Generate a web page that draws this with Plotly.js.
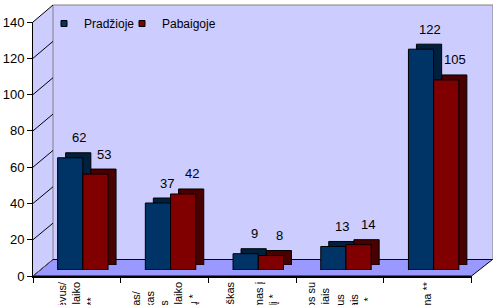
<!DOCTYPE html>
<html>
<head>
<meta charset="utf-8">
<script src="https://cdn.plot.ly/plotly-3.0.1.min.js"></script>
<style>html,body{margin:0;padding:0;background:#fff;}#chart{width:493px;height:305px;}</style>
</head>
<body>
<div id="chart"></div>
<script>
// ---- data ----
const NB = '\u00a0';
const categories = [
  'Nepaklūsta, įžeidinėja tėvus/<br>mokytojus, nesilaiko<br>taisyklių **' + NB.repeat(5),
  'Agresyvus, piktas/' + NB.repeat(3) + '<br>dažnai susierzinantis vaikas' + NB.repeat(3) + '<br>muša ir stumdo kitus' + NB.repeat(6) + '<br>vaikus, nesilaiko<br>elgesio normų *' + NB.repeat(4),
  'Nedrąsus, uždaras, pesimistiškas<br>liūdnas,' + NB.repeat(10) + '<br>nenoriai vedamas į<br>darželį *' + NB.repeat(4),
  'Negali rasti bendros kalbos su<br>bendraamžiais ir suaugusiais' + NB.repeat(2) + '<br>kelia konfliktus' + NB.repeat(4) + '<br>nesidalija žaislais' + NB.repeat(4) + '<br>su jais *' + NB.repeat(5),
  'Bendra elgesio sunkumų suma **'
];
const seriesNames = ['Pradžioje', 'Pabaigoje'];
const pradzioje = [62, 37, 9, 13, 122];
const pabaigoje = [53, 42, 8, 14, 105];
const yTickVals = [0, 20, 40, 60, 80, 100, 120, 140];
const gridVals = [20, 40, 60, 80, 100, 120];

// ---- styling / geometry ----
const frontColors = ['#003366', '#800000'];
const sideColors = ['#00203f', '#480000'];
const FONT = 'Liberation Sans, Arial, sans-serif';
const L = 33, T = 5, W = 460, H = 271;
const px2x = p => (p - L) / W;
const py2y = p => (T + H - p) / H;
const pxPerUnit = 1.81;

const frontTop = py2y(22);
const backBottom = py2y(259.5);

const series = [pradzioje, pabaigoje];
const legendIds = ['legend', 'legend2'];

const traces = [];
// legend entries on the front axis (no drawn points)
series.forEach((s, i) => {
  traces.push({
    type: 'scatter', mode: 'markers', name: seriesNames[i], legend: legendIds[i],
    x: categories, y: categories.map(() => null),
    xaxis: 'x', yaxis: 'y',
    marker: {symbol: 'square', size: 6, color: frontColors[i], line: {color: '#000', width: 1}},
    hoverinfo: 'skip'
  });
});
// depth (side/top) faces
series.forEach((s, i) => {
  traces.push({
    type: 'bar', name: seriesNames[i], x: categories, y: s,
    xaxis: 'x2', yaxis: 'y2', showlegend: false,
    marker: {color: sideColors[i], line: {color: '#000', width: 1}},
    hoverinfo: 'skip'
  });
});
// front faces
series.forEach((s, i) => {
  traces.push({
    type: 'bar', name: seriesNames[i], x: categories, y: s,
    xaxis: 'x3', yaxis: 'y3', showlegend: false,
    marker: {color: frontColors[i], line: {color: '#000', width: 1}}
  });
});

// value labels
const annotations = [];
series.forEach((s, i) => {
  s.forEach((v, k) => {
    annotations.push({
      xref: 'x3', yref: 'y3', x: categories[k], y: v,
      xshift: (i === 0 ? -12.6 : 12.6) + 9, yshift: 20,
      text: String(v), showarrow: false,
      font: {family: FONT, size: 13, color: '#000'}
    });
  });
});

// walls, floor, side-wall grid diagonals
const shapes = [
  {type: 'path', xref: 'paper', yref: 'paper', layer: 'below',
   path: `M0,0 L0,${frontTop} L${px2x(53)},1 L${px2x(53)},${backBottom} Z`,
   fillcolor: '#ccccff', line: {width: 0}},
  {type: 'rect', xref: 'paper', yref: 'paper', layer: 'below',
   x0: px2x(53), x1: 1, y0: backBottom, y1: 1,
   fillcolor: '#ccccff', line: {color: '#808080', width: 1}},
  {type: 'path', xref: 'paper', yref: 'paper', layer: 'below',
   path: `M0,0 L${px2x(471.5)},0 L${px2x(492.5)},${backBottom} L${px2x(53)},${backBottom} Z`,
   fillcolor: '#9999ff', line: {color: '#000', width: 1}}
];
yTickVals.forEach(v => {
  shapes.push({
    type: 'line', xref: 'paper', yref: 'paper', layer: 'below',
    x0: 0, y0: v / 140 * frontTop,
    x1: px2x(53), y1: backBottom + v / 140 * (1 - backBottom),
    line: {color: v === 0 ? '#555' : '#000', width: 1}
  });
});

const legendBase = {
  orientation: 'h', xanchor: 'left', y: py2y(23.5), yanchor: 'middle',
  bgcolor: 'rgba(0,0,0,0)', font: {family: FONT, size: 12, color: '#000'}
};

const hidden = {visible: false, fixedrange: true};
const layout = {
  width: 493, height: 305,
  margin: {l: L, r: 0, t: T, b: 305 - T - H},
  paper_bgcolor: '#ffffff', plot_bgcolor: 'rgba(0,0,0,0)',
  barmode: 'group', bargap: 0.425, bargroupgap: 0,
  showlegend: true,
  legend: Object.assign({x: px2x(44)}, legendBase),
  legend2: Object.assign({x: px2x(122)}, legendBase),
  font: {family: FONT, color: '#000'},
  xaxis: {
    domain: [0, px2x(471.5)], range: [-0.5, 4.5], type: 'category', anchor: 'y',
    showline: true, linecolor: '#000', linewidth: 1.5, showgrid: false, zeroline: false,
    ticks: 'outside', tickson: 'boundaries', ticklen: 5, tickcolor: '#000',
    tickangle: -90, tickfont: {family: FONT, size: 11, color: '#000'}
  },
  yaxis: {
    domain: [0, frontTop], range: [0, 140], anchor: 'x',
    tickvals: yTickVals, ticktext: yTickVals.map(String),
    showline: true, linecolor: '#000', linewidth: 1, showgrid: false, zeroline: false,
    ticks: 'outside', ticklen: 5, tickcolor: '#000',
    tickfont: {family: FONT, size: 13, color: '#000'}
  },
  xaxis2: Object.assign({domain: [px2x(47), px2x(485.5)], range: [-0.5, 4.5], type: 'category', anchor: 'y2'}, hidden),
  yaxis2: Object.assign({domain: [py2y(265), 1], range: [0, (265 - T) / pxPerUnit], anchor: 'x2'}, hidden),
  xaxis3: Object.assign({domain: [px2x(39), px2x(477.5)], range: [-0.5, 4.5], type: 'category', anchor: 'y3'}, hidden),
  yaxis3: Object.assign({domain: [py2y(270), 1], range: [0, (270 - T) / pxPerUnit], anchor: 'x3'}, hidden),
  xaxis4: {domain: [px2x(53), 1], range: [0, 1], anchor: 'y4', showticklabels: false, ticks: '', showline: false, showgrid: false, zeroline: false},
  yaxis4: {domain: [backBottom, 1], range: [0, 140], anchor: 'x4', tickvals: gridVals,
           showticklabels: false, ticks: '', showline: false, showgrid: true, gridcolor: '#000', gridwidth: 1, zeroline: false},
  shapes: shapes,
  annotations: annotations
};

Plotly.newPlot('chart', traces, layout, {displayModeBar: false, staticPlot: true});
</script>
</body>
</html>
